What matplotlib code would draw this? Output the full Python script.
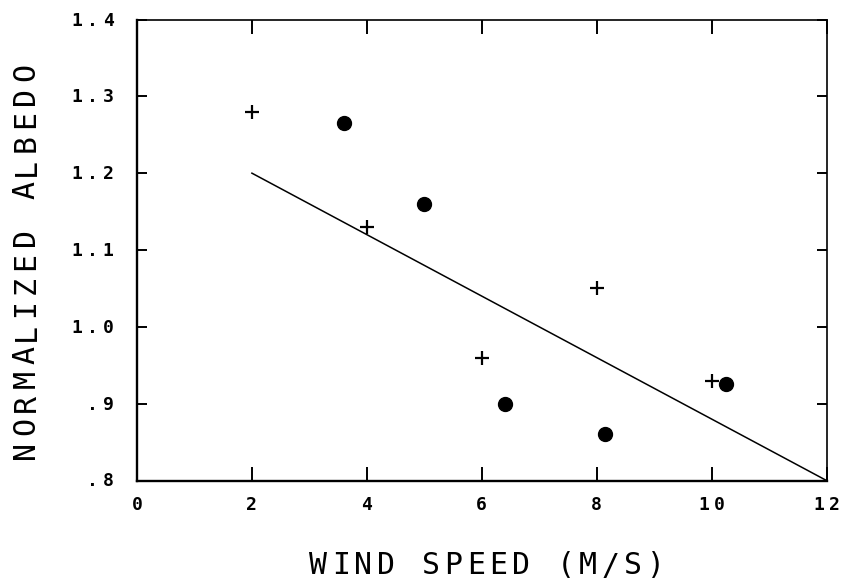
import matplotlib
matplotlib.use('Agg')
import matplotlib.pyplot as plt

# ---- data ----
wind_cross = [2, 4, 6, 8, 10]
albedo_cross = [1.28, 1.13, 0.96, 1.05, 0.93]
wind_dot = [3.6, 5.0, 6.4, 8.15, 10.25]
albedo_dot = [1.265, 1.16, 0.90, 0.86, 0.925]
fit_x = [2, 12]
fit_y = [1.2, 0.8]
xticks = [0, 2, 4, 6, 8, 10, 12]
xtick_labels = ['0', '2', '4', '6', '8', '10', '12']
yticks = [0.8, 0.9, 1.0, 1.1, 1.2, 1.3, 1.4]
ytick_labels = ['.8', '.9', '1.0', '1.1', '1.2', '1.3', '1.4']
xlabel = 'WIND SPEED (M/S)'
ylabel = 'NORMALIZED ALBEDO'

W, H, DPI = 843, 581, 100
FONT = 'DejaVu Sans Mono'
fig = plt.figure(figsize=(W / DPI, H / DPI), dpi=DPI)
L, R, T, B = 137, 826.5, 19.5, 480.5
ax = fig.add_axes([L / W, 1 - B / H, (R - L) / W, (B - T) / H])

ax.plot(fit_x, fit_y, color='black', lw=1.1)
ax.plot(wind_cross, albedo_cross, linestyle='none', marker='+', ms=10,
        mew=1.6, color='black')
ax.plot(wind_dot, albedo_dot, linestyle='none', marker='o', ms=10,
        color='black')

ax.set_xlim(0, 12)
ax.set_ylim(0.8, 1.4)
ax.set_xticks(xticks)
ax.set_yticks(yticks)
ax.set_xticklabels([])
ax.set_yticklabels([])
ax.tick_params(axis='x', which='both', direction='in', length=10, width=1.4,
               top=True, bottom=True)
ax.tick_params(axis='y', which='both', direction='in', length=7.5, width=1.4,
               left=True, right=True)
for side in ['left', 'bottom']:
    ax.spines[side].set_linewidth(1.7)
for side in ['top', 'right']:
    ax.spines[side].set_linewidth(1.2)


def spaced(x, y, s, step, coords, ha='center', rotation=0, size=11,
           base=(0, 0), weight='normal'):
    n = len(s)
    if ha == 'center':
        start = -(n - 1) / 2 * step
    elif ha == 'right':
        start = -(n - 1) * step
    else:
        start = 0
    for i, ch in enumerate(s):
        if ch == ' ':
            continue
        off = start + i * step
        if rotation == 90:
            xy = (base[0], base[1] + off)
        else:
            xy = (base[0] + off, base[1])
        ax.annotate(ch, (x, y), xycoords=coords, textcoords='offset pixels',
                    xytext=xy, ha='center', va='center', rotation=rotation,
                    fontsize=size, family=FONT, color='black',
                    fontweight=weight, annotation_clip=False)


# tick labels
for xv, lab in zip(xticks, xtick_labels):
    spaced(xv, 0.8, lab, 15, 'data', ha='center', size=13, base=(0, -25),
           weight='bold')
for yv, lab in zip(yticks, ytick_labels):
    spaced(0, yv, lab, 15.5, 'data', ha='right', size=13, base=(-29, -1),
           weight='bold')

# axis labels
spaced(487, H - 566, xlabel, 22.5, 'figure pixels', ha='center', size=21.5)
spaced(26, H - 261, ylabel, 23.6, 'figure pixels', ha='center', size=21.5,
       rotation=90)

fig.savefig('out.png', dpi=DPI)
